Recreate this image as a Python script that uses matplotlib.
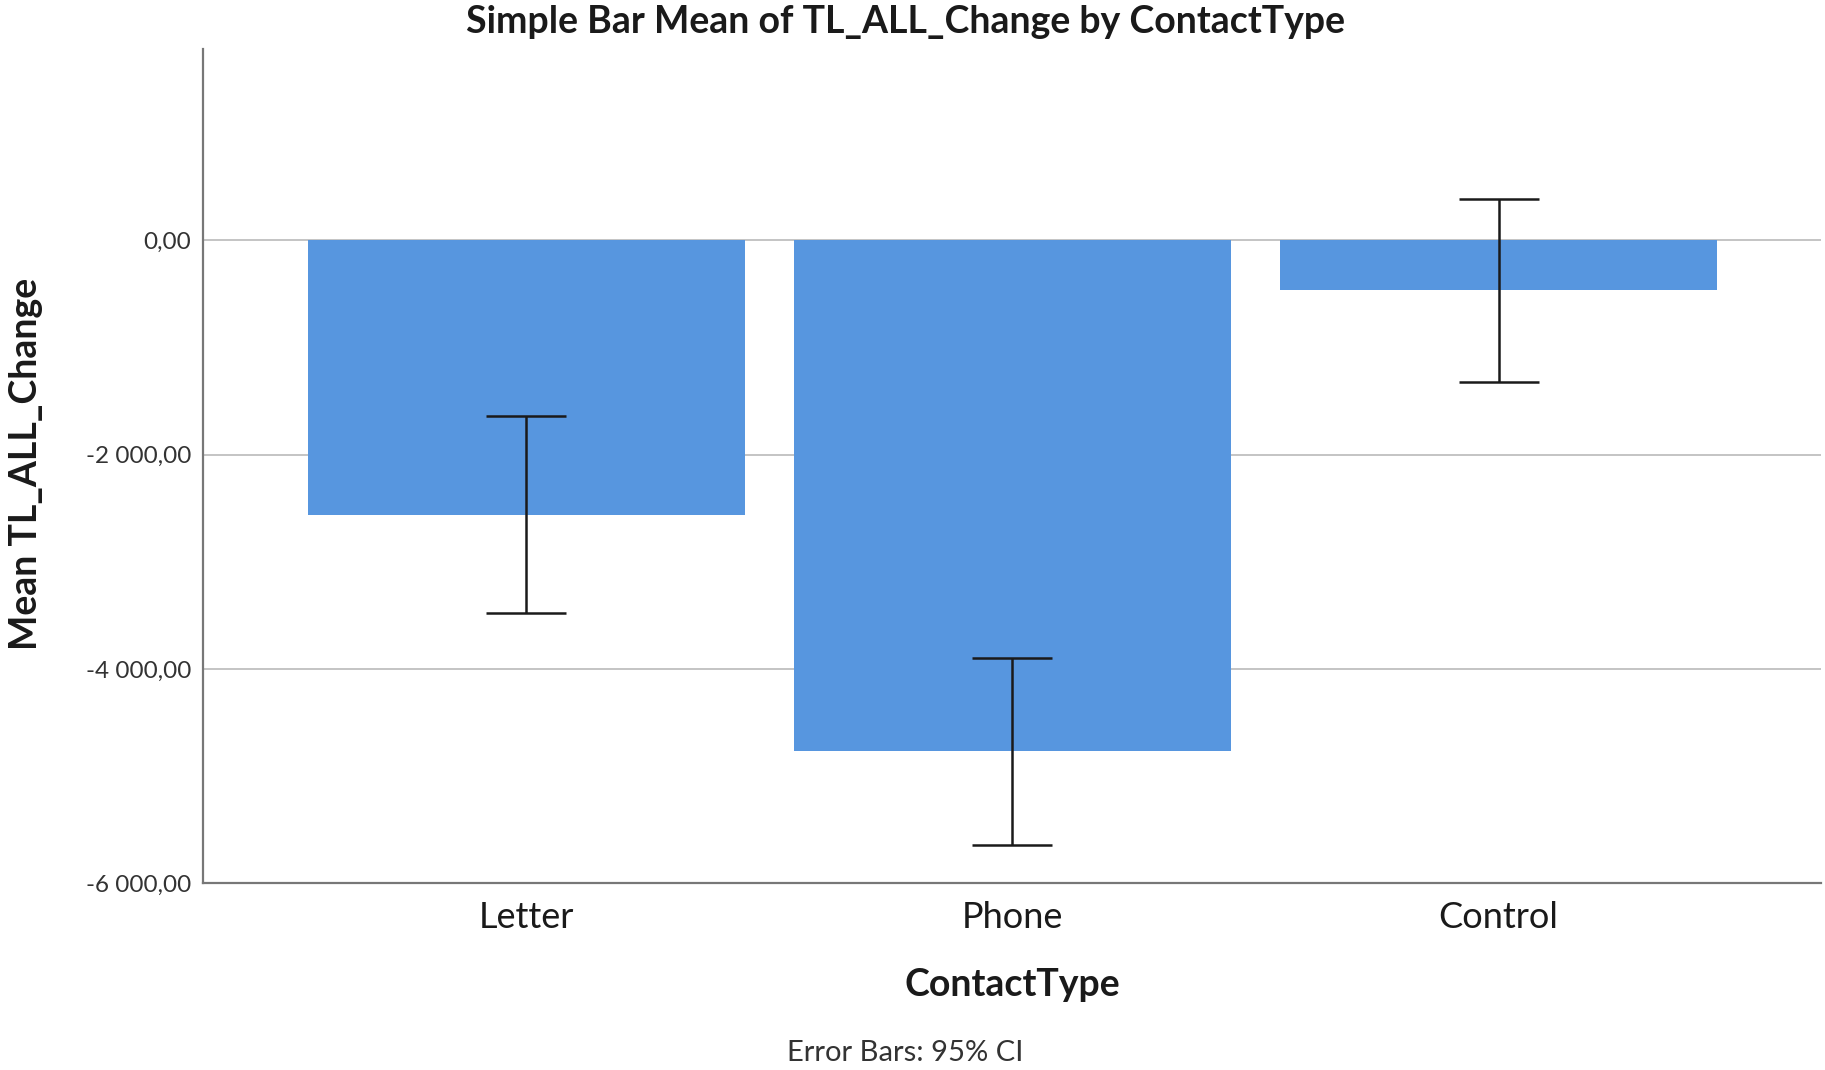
import matplotlib
matplotlib.use("Agg")
import matplotlib.pyplot as plt
from matplotlib.ticker import FuncFormatter
import numpy as np

categories = ["Letter", "Phone", "Control"]
means = [-2560, -4765, -470]
ci_low = [-3480, -5640, -1325]
ci_high = [-1640, -3895, 380]
y_ticks = [0, -2000, -4000, -6000]

BAR_COLOR = "#5796DF"
FONT = ["Lato", "DejaVu Sans"]


def fmt(v, _pos=None):
    s = f"{abs(v):,.2f}".replace(",", " ").replace(".", ",")
    return ("-" if v < 0 else "") + s


fig = plt.figure(figsize=(18.25, 10.7), dpi=100)
ax = fig.add_axes([0.111, 0.1744, 0.887, 0.7796])

xs = np.arange(len(categories))
means_a = np.array(means)
yerr = np.vstack([means_a - np.array(ci_low), np.array(ci_high) - means_a])

ax.bar(xs, means, width=0.9, color=BAR_COLOR, zorder=2)
ax.errorbar(xs, means, yerr=yerr, fmt="none", ecolor="#1a1a1a",
            elinewidth=1.8, capsize=29, capthick=1.8, zorder=3)

ax.set_xlim(-0.666, 2.664)
ax.set_ylim(-6000, 1780)
ax.set_yticks(y_ticks)
ax.yaxis.set_major_formatter(FuncFormatter(fmt))
ax.set_xticks(xs)
ax.set_xticklabels(categories, family=FONT, fontsize=26, color="#1a1a1a")
for lab in ax.get_yticklabels():
    lab.set_family(FONT)
    lab.set_fontsize(17.5)
    lab.set_color("#333333")
ax.tick_params(axis="both", length=0)
ax.tick_params(axis="y", pad=8)
ax.tick_params(axis="x", pad=13)

for yv in y_ticks[:-1]:
    ax.axhline(yv, color="#c4c4c4", linewidth=1.4, zorder=1)

for side in ("top", "right"):
    ax.spines[side].set_visible(False)
for side in ("left", "bottom"):
    ax.spines[side].set_color("#777777")
    ax.spines[side].set_linewidth(1.6)

fig.text(0.496, 0.979, "Simple Bar Mean of TL_ALL_Change by ContactType",
         ha="center", va="center", fontsize=27, fontweight="bold", family=FONT, color="#1a1a1a")
fig.text(0.014, 0.5665, "Mean TL_ALL_Change", rotation=90, ha="center", va="center",
         fontsize=27, fontweight="bold", family=FONT, color="#1a1a1a")
fig.text(0.5545, 0.0795, "ContactType", ha="center", va="center",
         fontsize=27, fontweight="bold", family=FONT, color="#1a1a1a")
fig.text(0.496, 0.0155, "Error Bars: 95% CI", ha="center", va="center",
         fontsize=21, family=FONT, color="#333333")

fig.savefig("out.png", dpi=100)
plt.close(fig)
